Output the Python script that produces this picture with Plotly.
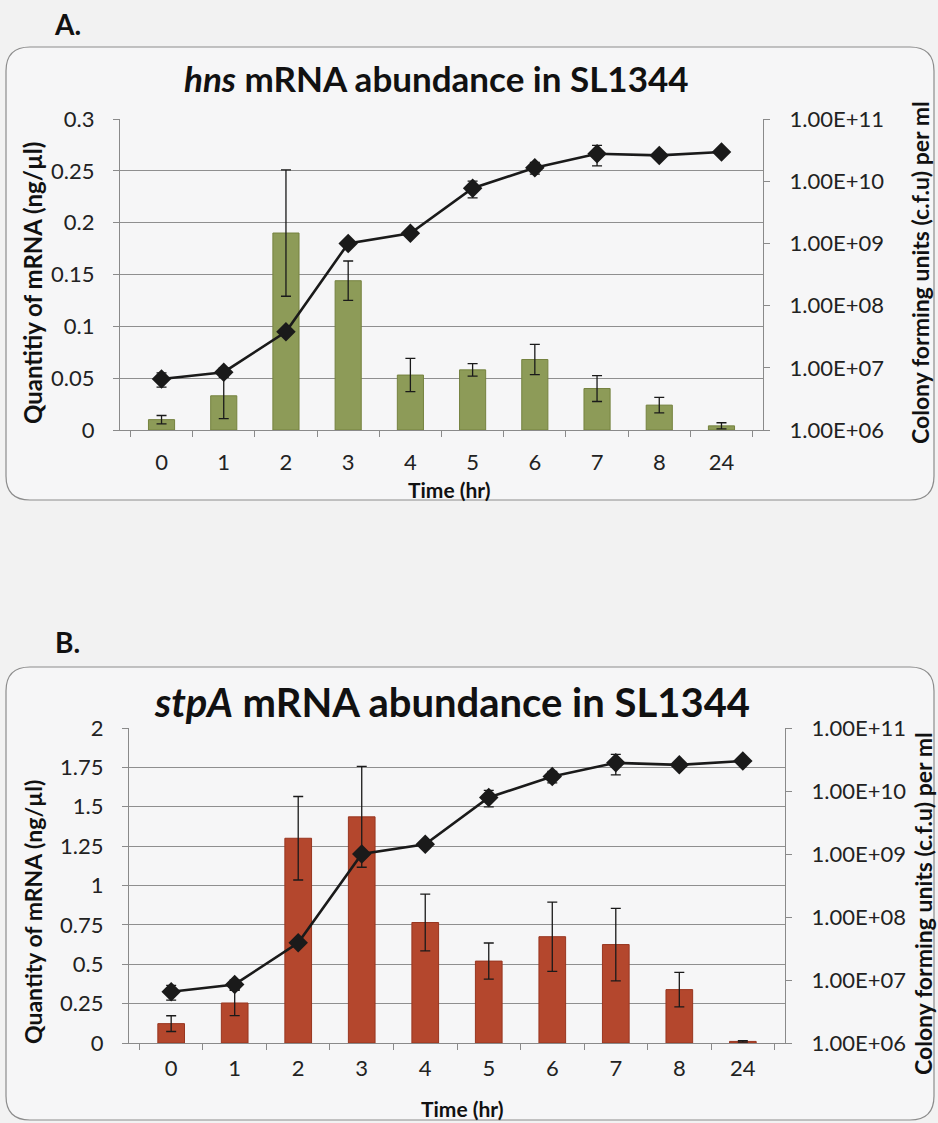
import plotly.graph_objects as go

# ---------------- data ----------------
time_labels = ["0", "1", "2", "3", "4", "5", "6", "7", "8", "24"]

hns_mrna = [0.010, 0.033, 0.190, 0.144, 0.053, 0.058, 0.068, 0.040, 0.024, 0.004]
hns_mrna_err = [0.004, 0.022, 0.061, 0.019, 0.016, 0.006, 0.0145, 0.0125, 0.0075, 0.003]

stpa_mrna = [0.123, 0.254, 1.30, 1.436, 0.765, 0.52, 0.675, 0.625, 0.339, 0.010]
stpa_mrna_err = [0.05, 0.08, 0.265, 0.32, 0.18, 0.115, 0.22, 0.23, 0.11, 0.005]

cfu_a = [6.6e6, 8.5e6, 3.8e7, 1.0e9, 1.45e9, 7.7e9, 1.65e10, 2.77e10, 2.6e10, 2.95e10]
cfu_a_err = [1.7e6, 1.5e6, 3e6, 1e8, 1e8, 2.3e9, 3.5e9, 1.0e10, 2e9, 1e9]

cfu_b = [6.5e6, 8.5e6, 3.9e7, 1.0e9, 1.43e9, 7.9e9, 1.7e10, 2.8e10, 2.6e10, 3.0e10]
cfu_b_err = [1.7e6, 1.5e6, 3e6, 1e8, 1e8, 2.3e9, 3.5e9, 1.0e10, 2e9, 1e9]

a_left_ticks = [0, 0.05, 0.1, 0.15, 0.2, 0.25, 0.3]
a_left_text = ["0", "0.05", "0.1", "0.15", "0.2", "0.25", "0.3"]
b_left_ticks = [0, 0.25, 0.5, 0.75, 1, 1.25, 1.5, 1.75, 2]
b_left_text = ["0", "0.25", "0.5", "0.75", "1", "1.25", "1.5", "1.75", "2"]
right_ticks = [1e6, 1e7, 1e8, 1e9, 1e10, 1e11]
right_text = ["1.00E+06", "1.00E+07", "1.00E+08", "1.00E+09", "1.00E+10", "1.00E+11"]

# ---------------- layout helpers ----------------
W, H = 938, 1123
FONT = "Lato"


def px_x(x):
    return x / W


def px_y(y):
    return 1 - y / H


GREEN = "#8d9b58"
GREEN_EDGE = "#75823f"
RED = "#b4472d"
RED_EDGE = "#983620"
INK = "#1a1a1a"

fig = go.Figure()

# Panel A
fig.add_trace(go.Bar(
    x=time_labels, y=hns_mrna, xaxis="x", yaxis="y",
    marker=dict(color=GREEN, line=dict(color=GREEN_EDGE, width=1)),
    error_y=dict(type="data", array=hns_mrna_err, color=INK, thickness=1.3, width=5),
    showlegend=False,
))
fig.add_trace(go.Scatter(
    x=time_labels, y=cfu_a, xaxis="x", yaxis="y2", mode="lines+markers",
    line=dict(color=INK, width=2.6),
    marker=dict(symbol="diamond", size=15, color=INK),
    error_y=dict(type="data", array=cfu_a_err, color=INK, thickness=1.3, width=5),
    showlegend=False,
))

# Panel B
fig.add_trace(go.Bar(
    x=time_labels, y=stpa_mrna, xaxis="x2", yaxis="y3",
    marker=dict(color=RED, line=dict(color=RED_EDGE, width=1)),
    error_y=dict(type="data", array=stpa_mrna_err, color=INK, thickness=1.3, width=5),
    showlegend=False,
))
fig.add_trace(go.Scatter(
    x=time_labels, y=cfu_b, xaxis="x2", yaxis="y4", mode="lines+markers",
    line=dict(color=INK, width=2.6),
    marker=dict(symbol="diamond", size=15, color=INK),
    error_y=dict(type="data", array=cfu_b_err, color=INK, thickness=1.3, width=5),
    showlegend=False,
))

tickfont = dict(family=FONT, size=22, color="#222222")

common_x = dict(
    type="category", tickson="boundaries", ticks="outside", ticklen=6, tickcolor="#8a8a8a",
    showline=True, linecolor="#8a8a8a", linewidth=1.2, showgrid=False, automargin=False,
    tickfont=tickfont, zeroline=False, fixedrange=True,
)
common_left = dict(
    showline=True, linecolor="#8a8a8a", linewidth=1.2, ticks="outside", ticklen=6,
    tickcolor="#8a8a8a", showgrid=True, gridcolor="#8f8f8f", gridwidth=1.3, automargin=False,
    tickfont=tickfont, zeroline=False, ticklabelstandoff=14,
)
common_right = dict(
    type="log", side="right", showline=True, linecolor="#8a8a8a", linewidth=1.2,
    ticks="outside", ticklen=6, tickcolor="#8a8a8a", showgrid=False, automargin=False,
    tickvals=right_ticks, ticktext=right_text, range=[6, 11],
    tickfont=tickfont, zeroline=False, ticklabelstandoff=15,
)

ax_dom = [px_x(120), px_x(763)]
ay_dom = [px_y(430), px_y(119)]
bx_dom = [px_x(129), px_x(785)]
by_dom = [px_y(1043), px_y(728)]

fig.update_layout(
    width=W, height=H,
    margin=dict(l=0, r=0, t=0, b=0),
    paper_bgcolor="#f2f2f2",
    plot_bgcolor="rgba(0,0,0,0)",
    bargap=0.58,
    xaxis=dict(domain=ax_dom, anchor="y", ticklabelstandoff=12, **common_x),
    yaxis=dict(domain=ay_dom, anchor="x", range=[0, 0.3], tickvals=a_left_ticks, ticktext=a_left_text,
               **common_left),
    yaxis2=dict(domain=ay_dom, anchor="x", overlaying="y", **common_right),
    xaxis2=dict(domain=bx_dom, anchor="y3", ticklabelstandoff=5, **common_x),
    yaxis3=dict(domain=by_dom, anchor="x2", range=[0, 2], tickvals=b_left_ticks, ticktext=b_left_text,
                **common_left),
    yaxis4=dict(domain=by_dom, anchor="x2", overlaying="y3", **common_right),
)


def rounded_box(x0, y0, x1, y1, r):
    # pixel coords -> paper path
    rx, ry = r / W, r / H
    X0, X1 = px_x(x0), px_x(x1)
    Y0, Y1 = px_y(y0), px_y(y1)  # Y0 top (higher), Y1 bottom
    return (f"M {X0+rx},{Y0} L {X1-rx},{Y0} Q {X1},{Y0} {X1},{Y0-ry} "
            f"L {X1},{Y1+ry} Q {X1},{Y1} {X1-rx},{Y1} "
            f"L {X0+rx},{Y1} Q {X0},{Y1} {X0},{Y1+ry} "
            f"L {X0},{Y0-ry} Q {X0},{Y0} {X0+rx},{Y0} Z")


fig.add_shape(type="path", xref="paper", yref="paper", layer="below",
              path=rounded_box(6, 47, 934, 500, 24),
              fillcolor="#f6f6f7", line=dict(color="#8c8c8c", width=1.2))
fig.add_shape(type="path", xref="paper", yref="paper", layer="below",
              path=rounded_box(6, 667, 934, 1120, 24),
              fillcolor="#f6f6f7", line=dict(color="#8c8c8c", width=1.2))


def label(text, x, y, size, angle=0, bold=True):
    fig.add_annotation(text=f"<b>{text}</b>" if bold else text, xref="paper", yref="paper",
                       x=px_x(x), y=px_y(y), xanchor="center", yanchor="middle",
                       showarrow=False, textangle=angle,
                       font=dict(family=FONT, size=size, color="#111111"))


label("A.", 67, 24, 28)
label("B.", 67, 642, 28)
label("<i>hns</i> mRNA abundance in SL1344", 436, 78, 35)
label("<i>stpA</i> mRNA abundance in SL1344", 452, 702, 40)

# axis titles
label("Time (hr)", 449, 489, 21)
label("Time (hr)", 462, 1108, 21)
label("Quantitiy of mRNA (ng/µl)", 33, 283, 24, angle=-90)
label("Quantity of mRNA (ng/µl)", 33, 912, 23, angle=-90)
label("Colony forming units (c.f.u) per ml", 920, 273, 23, angle=-90)
label("Colony forming units (c.f.u) per ml", 923, 904, 23, angle=-90)

fig.write_html("out.html", config={"displayModeBar": False},
               post_script="document.body.style.margin='0';")
